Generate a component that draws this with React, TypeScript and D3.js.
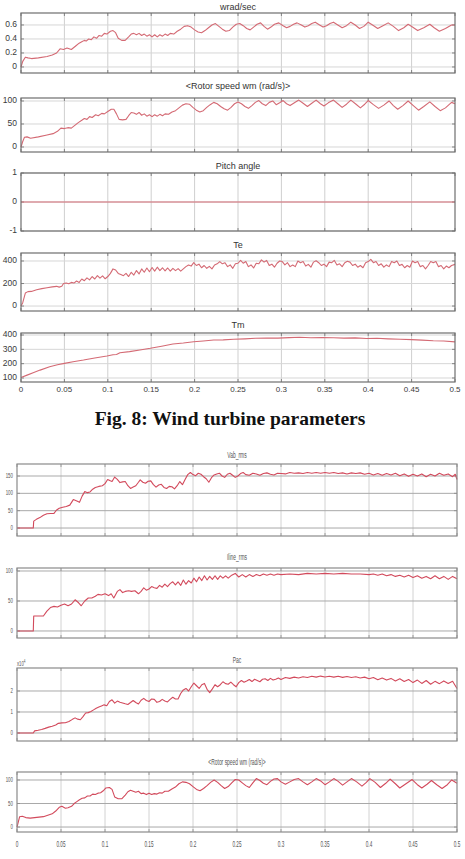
import React from "react";
import * as d3 from "d3";

type Pt = [number, number];

const X_TICKS = [0, 0.05, 0.1, 0.15, 0.2, 0.25, 0.3, 0.35, 0.4, 0.45, 0.5];
const X_TICK_LABELS = ["0", "0.05", "0.1", "0.15", "0.2", "0.25", "0.3", "0.35", "0.4", "0.45", "0.5"];

const TITLES_FIG1 = ["wrad/sec", "<Rotor speed wm (rad/s)>", "Pitch angle", "Te", "Tm"];
const TITLES_FIG2 = ["Vab_rms", "Iline_rms", "Pac", "<Rotor speed wm (rad/s)>"];
const CAPTION = "Fig. 8: Wind turbine parameters";

const wrad: Pt[] = [
  [0, 0], [0.002, 0.08], [0.005, 0.14], [0.008, 0.13], [0.012, 0.12], [0.02, 0.13], [0.03, 0.15], [0.036, 0.17],
  [0.041, 0.2], [0.045, 0.26], [0.049, 0.25], [0.053, 0.27], [0.058, 0.25], [0.063, 0.3], [0.067, 0.34], [0.07, 0.36],
  [0.073, 0.38], [0.075, 0.37], [0.078, 0.4], [0.081, 0.39], [0.084, 0.43], [0.087, 0.41], [0.09, 0.45], [0.093, 0.44],
  [0.096, 0.48], [0.099, 0.47], [0.103, 0.51], [0.106, 0.52], [0.109, 0.49], [0.112, 0.41], [0.116, 0.38], [0.12, 0.38],
  [0.124, 0.43], [0.127, 0.47], [0.13, 0.48], [0.133, 0.46], [0.136, 0.48], [0.139, 0.45], [0.142, 0.47], [0.145, 0.44],
  [0.148, 0.46], [0.151, 0.43], [0.154, 0.46], [0.157, 0.43], [0.16, 0.46], [0.163, 0.44], [0.166, 0.47], [0.169, 0.45],
  [0.172, 0.48], [0.176, 0.47], [0.18, 0.51], [0.184, 0.54], [0.188, 0.58], [0.192, 0.59], [0.196, 0.57], [0.2, 0.53],
  [0.204, 0.5], [0.208, 0.49], [0.212, 0.52], [0.216, 0.56], [0.22, 0.6], [0.224, 0.62], [0.228, 0.58], [0.232, 0.54],
  [0.236, 0.51], [0.24, 0.52], [0.244, 0.57], [0.248, 0.61], [0.252, 0.62], [0.256, 0.59], [0.26, 0.55], [0.264, 0.53],
  [0.268, 0.57], [0.272, 0.61], [0.276, 0.63], [0.28, 0.58], [0.284, 0.54], [0.288, 0.57], [0.292, 0.61], [0.297, 0.63],
  [0.302, 0.59], [0.306, 0.56], [0.31, 0.58], [0.314, 0.61], [0.318, 0.63], [0.323, 0.6], [0.327, 0.57], [0.331, 0.59],
  [0.335, 0.62], [0.339, 0.64], [0.344, 0.6], [0.348, 0.57], [0.352, 0.59], [0.356, 0.62], [0.36, 0.64], [0.365, 0.6],
  [0.37, 0.56], [0.375, 0.59], [0.38, 0.64], [0.385, 0.6], [0.39, 0.55], [0.395, 0.58], [0.4, 0.64], [0.405, 0.6],
  [0.411, 0.55], [0.417, 0.59], [0.423, 0.63], [0.429, 0.58], [0.435, 0.52], [0.441, 0.56], [0.446, 0.61], [0.451, 0.57],
  [0.457, 0.52], [0.464, 0.56], [0.471, 0.61], [0.476, 0.56], [0.482, 0.51], [0.489, 0.55], [0.496, 0.6], [0.5, 0.6],
];

const rotorSpeed: Pt[] = [
  [0, 0], [0.002, 12], [0.004, 21], [0.007, 22], [0.011, 19], [0.02, 22], [0.03, 26], [0.037, 29], [0.042, 34],
  [0.046, 41], [0.05, 40], [0.054, 42], [0.058, 41], [0.062, 47], [0.066, 53], [0.07, 58], [0.073, 62], [0.076, 60],
  [0.079, 66], [0.082, 64], [0.086, 70], [0.089, 68], [0.093, 73], [0.096, 72], [0.1, 77], [0.104, 82], [0.107, 82],
  [0.11, 72], [0.113, 60], [0.117, 59], [0.121, 60], [0.124, 68], [0.127, 75], [0.13, 74], [0.133, 71], [0.136, 75],
  [0.139, 69], [0.142, 72], [0.145, 67], [0.148, 70], [0.151, 66], [0.154, 70], [0.157, 67], [0.16, 71], [0.163, 68],
  [0.166, 72], [0.17, 71], [0.174, 76], [0.178, 79], [0.182, 85], [0.186, 91], [0.19, 94], [0.194, 93], [0.198, 86],
  [0.202, 80], [0.206, 76], [0.21, 79], [0.214, 86], [0.218, 92], [0.222, 97], [0.226, 94], [0.23, 88], [0.234, 83],
  [0.238, 80], [0.242, 86], [0.246, 94], [0.25, 98], [0.254, 94], [0.258, 88], [0.262, 84], [0.266, 90], [0.27, 97],
  [0.274, 101], [0.278, 94], [0.282, 90], [0.286, 97], [0.29, 100], [0.294, 92], [0.298, 96], [0.302, 101], [0.306, 94],
  [0.31, 90], [0.315, 96], [0.32, 102], [0.325, 95], [0.33, 88], [0.335, 95], [0.34, 102], [0.345, 94], [0.349, 89],
  [0.354, 96], [0.36, 102], [0.365, 94], [0.37, 86], [0.375, 93], [0.38, 102], [0.386, 93], [0.391, 85], [0.396, 93],
  [0.4, 101], [0.406, 92], [0.412, 84], [0.418, 91], [0.424, 100], [0.429, 90], [0.434, 82], [0.44, 90], [0.446, 100],
  [0.452, 90], [0.458, 80], [0.464, 88], [0.471, 98], [0.477, 88], [0.483, 79], [0.489, 85], [0.496, 97], [0.5, 94],
];

const pitchAngle: Pt[] = [[0, 0], [0.5, 0]];

const te: Pt[] = [
  [0, 0], [0.002, 30], [0.005, 115], [0.008, 128], [0.012, 130], [0.018, 145], [0.024, 155], [0.03, 162], [0.036, 170],
  [0.041, 175], [0.044, 168], [0.047, 175], [0.049, 200], [0.052, 205], [0.055, 198], [0.058, 210], [0.061, 204],
  [0.064, 222], [0.067, 210], [0.07, 240], [0.073, 225], [0.076, 250], [0.079, 232], [0.082, 262], [0.085, 240],
  [0.088, 270], [0.091, 248], [0.094, 268], [0.097, 242], [0.1, 262], [0.103, 290], [0.106, 330], [0.109, 320],
  [0.112, 290], [0.115, 280], [0.118, 270], [0.121, 290], [0.124, 262], [0.127, 300], [0.13, 275], [0.133, 315],
  [0.136, 285], [0.139, 330], [0.142, 300], [0.145, 338], [0.148, 305], [0.151, 342], [0.154, 310], [0.157, 345],
  [0.16, 315], [0.163, 340], [0.166, 312], [0.169, 338], [0.172, 310], [0.175, 335], [0.178, 315], [0.181, 332],
  [0.184, 310], [0.187, 330], [0.19, 350], [0.193, 365], [0.196, 355], [0.199, 385], [0.202, 360], [0.205, 372],
  [0.208, 340], [0.211, 360], [0.214, 335], [0.217, 352], [0.22, 330], [0.223, 365], [0.226, 375], [0.229, 395],
  [0.232, 375], [0.235, 385], [0.238, 350], [0.241, 365], [0.244, 335], [0.247, 375], [0.25, 380], [0.253, 405],
  [0.256, 380], [0.259, 395], [0.262, 350], [0.265, 365], [0.268, 338], [0.271, 380], [0.274, 375], [0.277, 410],
  [0.28, 390], [0.283, 405], [0.286, 360], [0.289, 372], [0.292, 345], [0.295, 380], [0.298, 400], [0.301, 395],
  [0.304, 365], [0.307, 385], [0.31, 350], [0.313, 365], [0.316, 350], [0.319, 400], [0.322, 385], [0.325, 395],
  [0.328, 355], [0.331, 370], [0.334, 345], [0.337, 390], [0.34, 402], [0.343, 385], [0.346, 360], [0.349, 372],
  [0.352, 350], [0.355, 390], [0.358, 385], [0.361, 405], [0.364, 365], [0.367, 375], [0.37, 350], [0.373, 385],
  [0.376, 398], [0.379, 390], [0.382, 360], [0.385, 372], [0.388, 345], [0.391, 360], [0.394, 340], [0.397, 385],
  [0.4, 395], [0.403, 415], [0.406, 385], [0.409, 395], [0.412, 360], [0.415, 375], [0.418, 345], [0.421, 365],
  [0.424, 350], [0.427, 395], [0.43, 385], [0.433, 400], [0.436, 360], [0.439, 370], [0.442, 340], [0.445, 360],
  [0.448, 345], [0.451, 400], [0.454, 385], [0.457, 395], [0.46, 350], [0.463, 360], [0.466, 330], [0.469, 360],
  [0.472, 395], [0.475, 385], [0.478, 395], [0.481, 350], [0.484, 360], [0.487, 330], [0.49, 355], [0.493, 340],
  [0.496, 360], [0.5, 370],
];

const tm: Pt[] = [
  [0, 103], [0.007, 120], [0.014, 137], [0.022, 155], [0.033, 178], [0.042, 192], [0.05, 202], [0.06, 213],
  [0.072, 225], [0.085, 240], [0.099, 253], [0.106, 262], [0.11, 264], [0.114, 276], [0.125, 284], [0.137, 295],
  [0.149, 307], [0.162, 322], [0.175, 337], [0.187, 344], [0.199, 353], [0.21, 358], [0.222, 365], [0.233, 366],
  [0.245, 370], [0.258, 373], [0.27, 377], [0.283, 379], [0.296, 378], [0.309, 382], [0.321, 384], [0.334, 381],
  [0.347, 383], [0.36, 381], [0.372, 378], [0.385, 380], [0.398, 376], [0.41, 377], [0.423, 373], [0.437, 370],
  [0.45, 368], [0.462, 364], [0.475, 360], [0.487, 358], [0.5, 352],
];

const vabRms: Pt[] = [
  [0, 0], [0.0185, 0], [0.019, 20], [0.022, 25], [0.026, 30], [0.03, 37], [0.034, 41], [0.038, 42], [0.042, 42],
  [0.045, 52], [0.048, 57], [0.052, 60], [0.056, 62], [0.06, 66], [0.064, 82], [0.068, 78], [0.071, 74], [0.074, 92],
  [0.077, 105], [0.08, 102], [0.083, 104], [0.086, 112], [0.089, 117], [0.093, 120], [0.097, 122], [0.1, 128],
  [0.103, 140], [0.106, 136], [0.108, 134], [0.111, 147], [0.114, 140], [0.117, 131], [0.12, 133], [0.123, 134],
  [0.126, 122], [0.129, 114], [0.132, 118], [0.135, 122], [0.138, 132], [0.14, 139], [0.143, 132], [0.146, 129],
  [0.149, 135], [0.152, 136], [0.155, 125], [0.158, 118], [0.161, 124], [0.164, 126], [0.167, 117], [0.17, 114],
  [0.173, 120], [0.176, 119], [0.179, 113], [0.182, 122], [0.185, 134], [0.188, 125], [0.191, 140], [0.194, 154],
  [0.197, 160], [0.2, 154], [0.203, 151], [0.206, 158], [0.209, 155], [0.212, 148], [0.215, 142], [0.218, 132],
  [0.221, 145], [0.224, 153], [0.227, 156], [0.23, 158], [0.233, 150], [0.236, 146], [0.239, 155], [0.242, 158],
  [0.245, 152], [0.248, 146], [0.251, 150], [0.254, 157], [0.257, 160], [0.26, 154], [0.264, 152], [0.268, 158],
  [0.272, 156], [0.276, 152], [0.28, 157], [0.284, 159], [0.288, 155], [0.292, 153], [0.296, 158], [0.3, 157],
  [0.305, 156], [0.31, 160], [0.315, 158], [0.32, 159], [0.325, 157], [0.33, 160], [0.335, 158], [0.34, 160],
  [0.345, 158], [0.35, 160], [0.355, 158], [0.36, 160], [0.365, 157], [0.37, 159], [0.375, 156], [0.38, 159],
  [0.385, 157], [0.39, 159], [0.395, 155], [0.4, 158], [0.405, 153], [0.41, 157], [0.415, 152], [0.42, 157],
  [0.425, 153], [0.43, 158], [0.435, 151], [0.44, 156], [0.445, 149], [0.45, 155], [0.455, 150], [0.46, 156],
  [0.465, 148], [0.47, 155], [0.475, 150], [0.48, 158], [0.485, 152], [0.49, 156], [0.495, 148], [0.498, 155],
  [0.5, 140],
];

const ilineRms: Pt[] = [
  [0, 0], [0.0185, 0], [0.019, 25], [0.03, 25], [0.034, 33], [0.038, 39], [0.042, 41], [0.046, 40], [0.05, 43],
  [0.054, 45], [0.058, 42], [0.062, 45], [0.066, 52], [0.07, 47], [0.073, 42], [0.077, 50], [0.081, 55], [0.085, 55],
  [0.089, 58], [0.092, 61], [0.096, 60], [0.1, 62], [0.104, 59], [0.107, 62], [0.11, 55], [0.114, 66], [0.117, 69],
  [0.12, 64], [0.123, 66], [0.127, 67], [0.13, 66], [0.134, 67], [0.138, 62], [0.141, 66], [0.144, 72], [0.147, 68],
  [0.15, 70], [0.153, 74], [0.156, 72], [0.159, 71], [0.162, 76], [0.165, 73], [0.168, 78], [0.171, 74], [0.174, 79],
  [0.177, 82], [0.18, 77], [0.183, 82], [0.186, 76], [0.189, 85], [0.192, 78], [0.195, 84], [0.198, 80], [0.201, 88],
  [0.204, 82], [0.207, 90], [0.21, 84], [0.213, 92], [0.216, 85], [0.219, 91], [0.222, 86], [0.225, 92], [0.228, 86],
  [0.231, 92], [0.234, 88], [0.237, 92], [0.24, 88], [0.244, 93], [0.248, 96], [0.252, 90], [0.256, 94], [0.26, 90],
  [0.264, 94], [0.268, 91], [0.272, 94], [0.276, 92], [0.28, 95], [0.284, 93], [0.288, 95], [0.292, 93], [0.296, 95],
  [0.3, 94], [0.31, 95], [0.32, 94], [0.33, 96], [0.34, 95], [0.35, 96], [0.36, 95], [0.37, 96], [0.38, 95],
  [0.39, 95], [0.4, 94], [0.405, 95], [0.41, 93], [0.415, 95], [0.42, 92], [0.425, 94], [0.43, 91], [0.435, 93],
  [0.44, 90], [0.445, 93], [0.45, 89], [0.455, 92], [0.46, 88], [0.465, 91], [0.47, 87], [0.475, 92], [0.48, 87],
  [0.485, 91], [0.49, 86], [0.495, 91], [0.5, 87],
];

// Pac in units of 10^4
const pac: Pt[] = [
  [0, 0], [0.0185, 0], [0.02, 0.1], [0.024, 0.13], [0.028, 0.17], [0.032, 0.22], [0.036, 0.28], [0.04, 0.32],
  [0.044, 0.38], [0.047, 0.46], [0.051, 0.48], [0.055, 0.49], [0.059, 0.55], [0.063, 0.65], [0.066, 0.72],
  [0.069, 0.66], [0.072, 0.63], [0.075, 0.78], [0.078, 0.95], [0.081, 0.97], [0.084, 1.02], [0.087, 1.1],
  [0.09, 1.18], [0.093, 1.24], [0.096, 1.29], [0.099, 1.34], [0.102, 1.3], [0.105, 1.5], [0.108, 1.58], [0.111, 1.42],
  [0.114, 1.52], [0.117, 1.46], [0.12, 1.43], [0.123, 1.39], [0.126, 1.36], [0.129, 1.45], [0.132, 1.55],
  [0.135, 1.45], [0.138, 1.38], [0.141, 1.56], [0.144, 1.65], [0.147, 1.55], [0.15, 1.5], [0.153, 1.62], [0.156, 1.6],
  [0.159, 1.46], [0.162, 1.5], [0.165, 1.6], [0.168, 1.52], [0.171, 1.48], [0.174, 1.6], [0.177, 1.7], [0.18, 1.62],
  [0.183, 1.62], [0.186, 1.88], [0.189, 2.05], [0.192, 2.12], [0.195, 2.0], [0.198, 2.2], [0.201, 2.38],
  [0.204, 2.25], [0.207, 2.12], [0.21, 2.3], [0.213, 2.36], [0.216, 2.08], [0.219, 1.92], [0.222, 2.1], [0.225, 2.3],
  [0.228, 2.2], [0.231, 2.3], [0.234, 2.44], [0.237, 2.35], [0.24, 2.32], [0.243, 2.42], [0.246, 2.3], [0.249, 2.2],
  [0.252, 2.4], [0.255, 2.5], [0.258, 2.42], [0.261, 2.48], [0.264, 2.55], [0.267, 2.45], [0.27, 2.56], [0.273, 2.5],
  [0.276, 2.44], [0.279, 2.56], [0.282, 2.58], [0.285, 2.5], [0.288, 2.6], [0.291, 2.52], [0.294, 2.56],
  [0.297, 2.62], [0.3, 2.55], [0.305, 2.64], [0.31, 2.6], [0.315, 2.66], [0.32, 2.62], [0.325, 2.68], [0.33, 2.64],
  [0.335, 2.7], [0.34, 2.66], [0.345, 2.71], [0.35, 2.67], [0.355, 2.7], [0.36, 2.66], [0.365, 2.7], [0.37, 2.65],
  [0.375, 2.69], [0.38, 2.64], [0.385, 2.68], [0.39, 2.62], [0.395, 2.66], [0.4, 2.58], [0.405, 2.64], [0.41, 2.54],
  [0.415, 2.62], [0.42, 2.52], [0.425, 2.6], [0.43, 2.48], [0.435, 2.58], [0.44, 2.45], [0.445, 2.55], [0.45, 2.4],
  [0.455, 2.52], [0.46, 2.36], [0.465, 2.5], [0.47, 2.32], [0.475, 2.46], [0.48, 2.35], [0.485, 2.48], [0.49, 2.36],
  [0.495, 2.46], [0.5, 2.12],
];

const rotorSpeed2: Pt[] = [
  [0, 0], [0.003, 22], [0.006, 23], [0.01, 20], [0.015, 19], [0.02, 20], [0.025, 21], [0.03, 22], [0.035, 25],
  [0.04, 28], [0.044, 34], [0.048, 42], [0.051, 44], [0.055, 40], [0.058, 41], [0.062, 44], [0.065, 50], [0.068, 54],
  [0.071, 58], [0.074, 61], [0.077, 62], [0.08, 66], [0.083, 66], [0.086, 70], [0.089, 69], [0.092, 72], [0.095, 73],
  [0.098, 77], [0.101, 83], [0.105, 84], [0.108, 80], [0.111, 64], [0.115, 60], [0.119, 60], [0.123, 68], [0.126, 75],
  [0.129, 78], [0.132, 76], [0.135, 74], [0.138, 76], [0.141, 71], [0.144, 72], [0.147, 69], [0.15, 72], [0.153, 69],
  [0.156, 71], [0.159, 70], [0.162, 73], [0.165, 72], [0.168, 76], [0.172, 76], [0.176, 81], [0.18, 85], [0.184, 92],
  [0.188, 96], [0.192, 95], [0.196, 92], [0.2, 86], [0.204, 80], [0.208, 77], [0.212, 82], [0.216, 88], [0.22, 95],
  [0.224, 100], [0.228, 95], [0.232, 88], [0.236, 82], [0.24, 86], [0.244, 94], [0.248, 101], [0.252, 100],
  [0.256, 94], [0.26, 88], [0.264, 84], [0.268, 94], [0.272, 103], [0.276, 99], [0.28, 93], [0.284, 90], [0.288, 97],
  [0.292, 102], [0.296, 103], [0.3, 96], [0.305, 91], [0.31, 96], [0.315, 101], [0.32, 103], [0.325, 96], [0.33, 90],
  [0.335, 96], [0.34, 103], [0.345, 98], [0.35, 90], [0.355, 96], [0.36, 103], [0.365, 97], [0.37, 89], [0.375, 96],
  [0.38, 103], [0.386, 96], [0.392, 87], [0.397, 95], [0.401, 103], [0.407, 95], [0.413, 84], [0.419, 93],
  [0.424, 102], [0.43, 92], [0.435, 83], [0.442, 92], [0.449, 101], [0.455, 90], [0.46, 83], [0.466, 91], [0.471, 99],
  [0.477, 90], [0.483, 82], [0.489, 90], [0.494, 100], [0.5, 93],
];

type PanelProps = {
  title: string;
  data: Pt[];
  yDomain: [number, number];
  yTicks: number[];
  yTickLabels: string[];
  top: number;
  bottom: number;
  left: number;
  right: number;
  titleY: number;
  variant: 1 | 2;
  showX?: boolean;
  xLabelY?: number;
  exponent?: boolean;
};

function CondText(props: { x: number; y: number; anchor: string; size: number; fill: string; children: React.ReactNode; sx?: number }) {
  const sx = props.sx ?? 0.55;
  return (
    <text
      transform={`translate(${props.x},${props.y}) scale(${sx},1)`}
      textAnchor={props.anchor as any}
      dominantBaseline="middle"
      fontSize={props.size}
      fontFamily="Liberation Sans, Arial, sans-serif"
      fill={props.fill}
    >
      {props.children}
    </text>
  );
}

function Panel(p: PanelProps) {
  const x = d3.scaleLinear().domain([0, 0.5]).range([p.left, p.right]);
  const y = d3.scaleLinear().domain(p.yDomain).range([p.bottom, p.top]);
  const line = d3.line<Pt>().x((d) => x(d[0])).y((d) => y(d[1]));
  const v1 = p.variant === 1;
  const frameColor = v1 ? "#6e6e6e" : "#8a8a8a";
  const vGrid = v1 ? "#cfcfcf" : "#d2d2d2";
  const hGrid = v1 ? "#d6d6d6" : "#a9a9a9";
  const lineColor = v1 ? "#d46a74" : "#d24a5c";
  const labelColor = v1 ? "#3a3a3a" : "#555";

  return (
    <g>
      {X_TICKS.slice(1, -1).map((t) => (
        <line key={"vg" + t} x1={x(t)} x2={x(t)} y1={p.top} y2={p.bottom} stroke={vGrid} strokeWidth={1} />
      ))}
      {p.yTicks.map((v) => (
        <line key={"hg" + v} x1={p.left} x2={p.right} y1={y(v)} y2={y(v)} stroke={hGrid} strokeWidth={1} />
      ))}
      {X_TICKS.map((t) => (
        <g key={"ft" + t}>
          <line x1={x(t)} x2={x(t)} y1={p.bottom} y2={p.bottom - 3} stroke={frameColor} strokeWidth={0.8} />
          <line x1={x(t)} x2={x(t)} y1={p.top} y2={p.top + 3} stroke={frameColor} strokeWidth={0.8} />
        </g>
      ))}
      {p.yTicks.map((v) => (
        <g key={"yt" + v}>
          <line x1={p.left} x2={p.left + 3} y1={y(v)} y2={y(v)} stroke={frameColor} strokeWidth={0.8} />
          <line x1={p.right} x2={p.right - 3} y1={y(v)} y2={y(v)} stroke={frameColor} strokeWidth={0.8} />
        </g>
      ))}
      <path d={line(p.data) ?? ""} fill="none" stroke={lineColor} strokeWidth={1.1} strokeLinejoin="round" />
      <rect x={p.left} y={p.top} width={p.right - p.left} height={p.bottom - p.top} fill="none" stroke={frameColor} strokeWidth={1.2} />
      {p.yTicks.map((v, i) =>
        v1 ? (
          <text
            key={"yl" + v}
            x={p.left - 4}
            y={y(v)}
            textAnchor="end"
            dominantBaseline="middle"
            fontSize={8.5}
            fontFamily="Liberation Sans, Arial, sans-serif"
            fill={labelColor}
          >
            {p.yTickLabels[i]}
          </text>
        ) : (
          <CondText key={"yl" + v} x={p.left - 4} y={y(v)} anchor="end" size={8} fill={labelColor}>
            {p.yTickLabels[i]}
          </CondText>
        )
      )}
      {v1 ? (
        <text
          x={(p.left + p.right) / 2}
          y={p.titleY}
          textAnchor="middle"
          dominantBaseline="middle"
          fontSize={9}
          fontFamily="Liberation Sans, Arial, sans-serif"
          fill="#333"
        >
          {p.title}
        </text>
      ) : (
        <CondText x={(p.left + p.right) / 2} y={p.titleY} anchor="middle" size={9} fill="#555" sx={0.55}>
          {p.title}
        </CondText>
      )}
      {p.exponent && (
        <CondText x={p.left} y={p.top - 4} anchor="start" size={7} fill="#555" sx={0.6}>
          x10
          <tspan dy={-2.5} fontSize={5}>4</tspan>
        </CondText>
      )}
      {p.showX &&
        X_TICKS.map((t, i) =>
          v1 ? (
            <text
              key={"xl" + t}
              x={x(t)}
              y={p.xLabelY}
              textAnchor="middle"
              dominantBaseline="middle"
              fontSize={8}
              fontFamily="Liberation Sans, Arial, sans-serif"
              fill={labelColor}
            >
              {X_TICK_LABELS[i]}
            </text>
          ) : (
            <CondText key={"xl" + t} x={x(t)} y={p.xLabelY ?? 0} anchor="middle" size={8.5} fill={labelColor}>
              {X_TICK_LABELS[i]}
            </CondText>
          )
        )}
    </g>
  );
}

export default function App() {
  const L1 = 21, R1 = 455, L2 = 17, R2 = 457;
  return (
    <div style={{ position: "absolute", left: 0, top: 0, width: 465, height: 859, background: "#fff" }}>
      <svg width={465} height={859} style={{ display: "block" }}>
        <rect x={0} y={0} width={465} height={859} fill="#fff" />
        <Panel title={TITLES_FIG1[0]} data={wrad} yDomain={[-0.086, 0.771]} yTicks={[0, 0.2, 0.4, 0.6]}
          yTickLabels={["0", "0.2", "0.4", "0.6"]} top={13} bottom={73} left={L1} right={R1} titleY={8} variant={1} />
        <Panel title={TITLES_FIG1[1]} data={rotorSpeed} yDomain={[-10.9, 106.5]} yTicks={[0, 50, 100]}
          yTickLabels={["0", "50", "100"]} top={98} bottom={152} left={L1} right={R1} titleY={87} variant={1} />
        <Panel title={TITLES_FIG1[2]} data={pitchAngle} yDomain={[-1, 1]} yTicks={[-1, 0, 1]}
          yTickLabels={["-1", "0", "1"]} top={173} bottom={231} left={L1} right={R1} titleY={167} variant={1} />
        <Panel title={TITLES_FIG1[3]} data={te} yDomain={[-44, 471]} yTicks={[0, 200, 400]}
          yTickLabels={["0", "200", "400"]} top={253} bottom={311} left={L1} right={R1} titleY={246} variant={1} />
        <Panel title={TITLES_FIG1[4]} data={tm} yDomain={[72, 414]} yTicks={[100, 200, 300, 400]}
          yTickLabels={["100", "200", "300", "400"]} top={333} bottom={382} left={L1} right={R1} titleY={326}
          variant={1} showX xLabelY={390} />

        <text x={230} y={421} textAnchor="middle" dominantBaseline="middle" fontSize={19.5} fontWeight="bold"
          fontFamily="Liberation Serif, Times New Roman, serif" fill="#111">
          {CAPTION}
        </text>

        <Panel title={TITLES_FIG2[0]} data={vabRms} yDomain={[-23, 184.6]} yTicks={[0, 50, 100, 150]}
          yTickLabels={["0", "50", "100", "150"]} top={464} bottom={536} left={L2} right={R2} titleY={456} variant={2} />
        <Panel title={TITLES_FIG2[1]} data={ilineRms} yDomain={[-11.7, 105]} yTicks={[0, 50, 100]}
          yTickLabels={["0", "50", "100"]} top={568} bottom={638} left={L2} right={R2} titleY={558} variant={2} />
        <Panel title={TITLES_FIG2[2]} data={pac} yDomain={[-0.381, 3.095]} yTicks={[0, 1, 2]}
          yTickLabels={["0", "1", "2"]} top={668} bottom={741} left={L2} right={R2} titleY={661} variant={2} exponent />
        <Panel title={TITLES_FIG2[3]} data={rotorSpeed2} yDomain={[-10.6, 117]} yTicks={[0, 50, 100]}
          yTickLabels={["0", "50", "100"]} top={772} bottom={832} left={L2} right={R2} titleY={763} variant={2}
          showX xLabelY={845} />
      </svg>
    </div>
  );
}
